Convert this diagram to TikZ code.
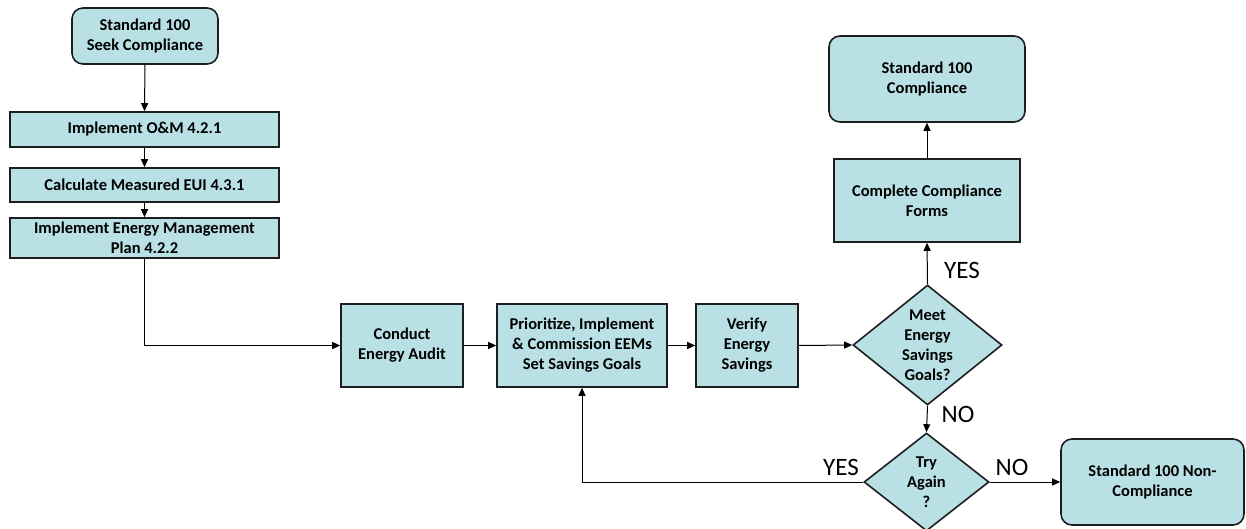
\documentclass[tikz,border=0pt]{standalone}
\usepackage{fontspec}
\setmainfont{Carlito}
\usetikzlibrary{arrows.meta,shapes.geometric}
\definecolor{boxfill}{RGB}{185,224,228}
\definecolor{boxline}{RGB}{30,30,30}
\begin{document}
\begin{tikzpicture}[x=1pt,y=-1pt,
  base/.style={draw=boxline,line width=1.6pt,fill=boxfill,inner sep=0pt,align=center,
    font=\fontsize{16.5}{20}\selectfont\bfseries},
  procbox/.style={base,rectangle},
  termbox/.style={base,rectangle,rounded corners=11pt},
  decbox/.style={base,diamond},
  conn/.style={line width=1pt,draw=black,-{Triangle[length=8pt,width=7pt]}},
  plain/.style={line width=1pt,draw=black},
  lbl/.style={font=\fontsize{25}{28}\selectfont,inner sep=0pt}]
\useasboundingbox (0,0) rectangle (1246,529);
\node[termbox,minimum width=146pt,minimum height=56pt] (start) at (145,36) {Standard 100\\Seek Compliance};
\node[procbox,minimum width=269pt,minimum height=35pt] (om) at (144.5,129.5) {Implement O\&M 4.2.1};
\node[procbox,minimum width=269pt,minimum height=34pt] (eui) at (144.5,185) {Calculate Measured EUI 4.3.1};
\node[procbox,minimum width=269pt,minimum height=40pt] (emp) at (144.5,238) {Implement Energy Management\\Plan 4.2.2};
\node[procbox,minimum width=122pt,minimum height=83pt] (audit) at (402,345.5) {Conduct\\Energy Audit};
\node[procbox,minimum width=170pt,minimum height=83pt] (prio) at (582,345.5) {Prioritize, Implement\\\& Commission EEMs\\Set Savings Goals};
\node[procbox,minimum width=102pt,minimum height=83pt] (verify) at (747,345.5) {Verify\\Energy\\Savings};
\node[decbox,minimum width=149pt,minimum height=120pt,
  label={[align=center,font=\fontsize{16.5}{20}\selectfont\bfseries]center:Meet\\Energy\\Savings\\Goals?}] (meet) at (927.5,345) {};
\node[decbox,minimum width=125pt,minimum height=98pt,
  label={[align=center,font=\fontsize{16.5}{20}\selectfont\bfseries]center:Try\\Again\\?}] (again) at (926.5,482) {};
\node[procbox,minimum width=186pt,minimum height=83pt] (forms) at (927,200.5) {Complete Compliance\\Forms};
\node[termbox,minimum width=196pt,minimum height=86pt] (comp) at (927,79) {Standard 100\\Compliance};
\node[termbox,minimum width=183pt,minimum height=86pt] (non) at (1152.5,482) {Standard 100 Non-\\Compliance};

\draw[conn] (start.south) -- (om.north);
\draw[conn] (om.south) -- (eui.north);
\draw[conn] (eui.south) -- (emp.north);
\draw[conn] (emp.south) -- (emp.south |- audit.west) -- (audit.west);
\draw[conn] (audit.east) -- (prio.west);
\draw[conn] (prio.east) -- (verify.west);
\draw[conn] (verify.east) -- (meet.west);
\draw[conn] (meet.north) -- (forms.south);
\draw[conn] (forms.north) -- (comp.south);
\draw[conn] (meet.south) -- (again.north);
\draw[conn] (again.east) -- (non.west);
\draw[conn] (again.west) -| (prio.south);

\node[lbl] (yes1) at (962,270) {YES};
\node[lbl] (no1) at (958,414) {NO};
\node[lbl] (yes2) at (841,467) {YES};
\node[lbl] (no2) at (1012,467) {NO};
\end{tikzpicture}
\end{document}
